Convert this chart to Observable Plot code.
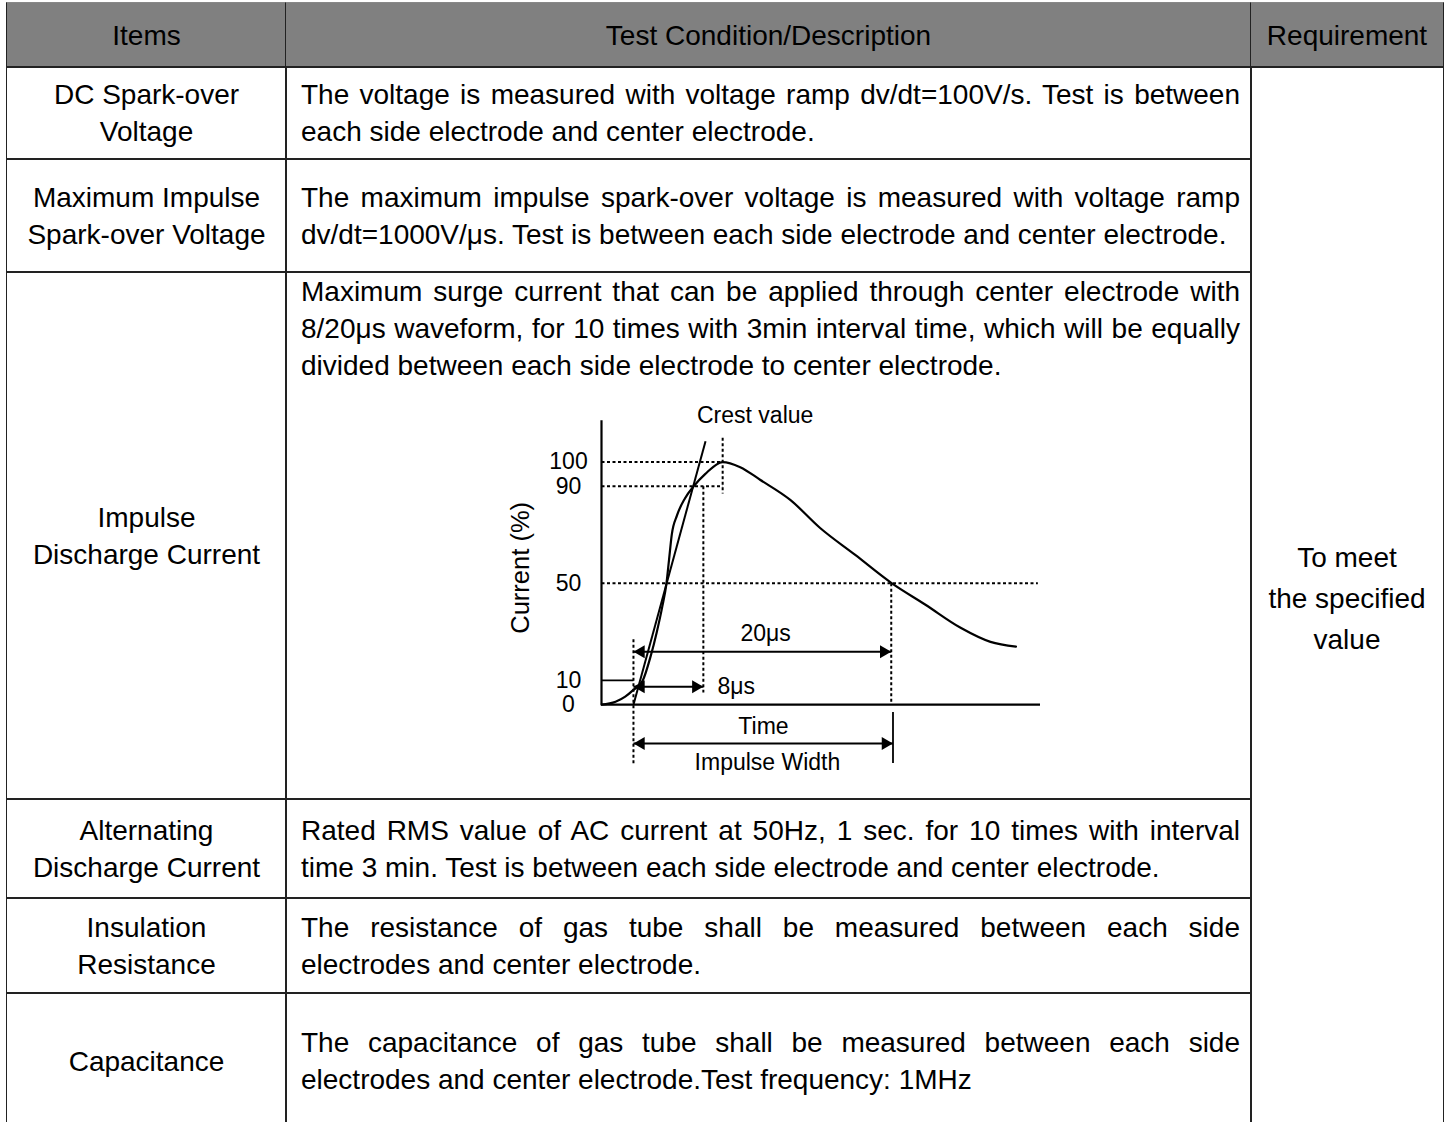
<!DOCTYPE html>
<html><head><meta charset="utf-8">
<script src="https://cdn.jsdelivr.net/npm/d3@7"></script>
<script src="https://cdn.jsdelivr.net/npm/@observablehq/plot@0.6"></script>
<style>
body{margin:0;background:#fff;}
#page{position:relative;width:1451px;height:1122px;overflow:hidden;font-family:"Liberation Sans",Arial,sans-serif;color:#000;}
.cell{position:absolute;box-sizing:border-box;border:1.5px solid #222;}
.hdr{background:#808080;border-top-color:#888;}
.center{display:flex;align-items:center;justify-content:center;text-align:center;font-size:28px;line-height:37px;}
.req{line-height:41px;}
.desc{position:absolute;box-sizing:border-box;display:flex;flex-direction:column;font-size:28px;line-height:37px;padding-left:15px;padding-right:11px;}
.desc div{white-space:nowrap;}
.desc .j{text-align:justify;text-align-last:justify;}
#chart{position:absolute;left:490px;top:395px;}
</style></head>
<body><div id="page"></div>
<script>
// ---- table content ----
const headers = ["Items", "Test Condition/Description", "Requirement"];
const items = [
  ["DC Spark-over", "Voltage"],
  ["Maximum Impulse", "Spark-over Voltage"],
  ["Impulse", "Discharge Current"],
  ["Alternating", "Discharge Current"],
  ["Insulation", "Resistance"],
  ["Capacitance"]
];
const descriptions = [
  ["The voltage is measured with voltage ramp dv/dt=100V/s. Test is between", "each side electrode and center electrode."],
  ["The maximum impulse spark-over voltage is measured with voltage ramp", "dv/dt=1000V/\u03bcs. Test is between each side electrode and center electrode."],
  ["Maximum surge current that can be applied through center electrode with", "8/20\u03bcs waveform, for 10 times with 3min interval time, which will be equally", "divided between each side electrode to center electrode."],
  ["Rated RMS value of AC current at 50Hz, 1 sec. for 10 times with interval", "time 3 min. Test is between each side electrode and center electrode."],
  ["The resistance of gas tube shall be measured between each side", "electrodes and center electrode."],
  ["The capacitance of gas tube shall be measured between each side", "electrodes and center electrode.Test frequency: 1MHz"]
];
const requirement = ["To meet", "the specified", "value"];

// ---- chart data (schematic time units, current in %) ----
const yTicks = [0, 10, 50, 90, 100];
const waveform = [
  [0,0],[1.6,1.2],[2.7,3.3],[3.6,6.0],[4.7,10],[5.6,20],[6.3,30],[6.9,40],[7.4,50],
  [7.7,60],[8.0,70],[8.6,78],[9.5,85],[10.5,90],[11.8,95],[13.8,100],
  [15.8,97.9],[18.1,92.6],[21.5,84.4],[24.9,72.8],[28.9,61.7],[33.0,50.2],
  [36.9,41.2],[40.9,31.7],[44.3,25.9],[47.2,23.9]
];
const frontLine = [{x1:3.64, y1:0, x2:11.85, y2:108.6}];
const dottedGuides = [
  {x1:0, y1:100, x2:13.8, y2:100},
  {x1:0, y1:90, x2:13.8, y2:90},
  {x1:13.8, y1:110, x2:13.8, y2:87},
  {x1:11.6, y1:90, x2:11.6, y2:5},
  {x1:0, y1:50, x2:49.7, y2:50},
  {x1:33.0, y1:50, x2:33.0, y2:0},
  {x1:3.64, y1:27, x2:3.64, y2:-25}
];
const solidGuides = [
  {x1:0, y1:10, x2:3.64, y2:10},
  {x1:33.2, y1:-3, x2:33.2, y2:-24}
];
const arrows = [
  {x1:3.64, x2:11.6, y:7.4},
  {x1:3.64, x2:33.0, y:21.8},
  {x1:3.64, x2:33.2, y:-16}
];
const labels = [
  {x:17.5, y:119, text:"Crest value"},
  {x:18.7, y:29.2, text:"20\u03bcs"},
  {x:18.45, y:-9, text:"Time"},
  {x:18.9, y:-23.9, text:"Impulse Width"}
];
const sideLabels = [{x:13.2, y:7.4, text:"8\u03bcs"}];
const axisLabel = [{x:-9.2, y:56.4, text:"Current (%)"}];

// ---- layout ----
const page = document.getElementById("page");
const colEdges = [7, 286, 1251, 1443];
const rowEdges = [67, 159, 272, 799, 898, 993, 1129];
const headerTop = 3;

function cell(x0, y0, x1, y1, cls, html) {
  const d = document.createElement("div");
  d.className = "cell " + (cls || "");
  d.style.left = (x0 - 0.75) + "px";
  d.style.top = (y0 - 0.75) + "px";
  d.style.width = (x1 - x0 + 1.5) + "px";
  d.style.height = (y1 - y0 + 1.5) + "px";
  if (html != null) d.innerHTML = html;
  page.appendChild(d);
  return d;
}
headers.forEach((h, i) => cell(colEdges[i], headerTop, colEdges[i+1], rowEdges[0], "hdr center", h));
items.forEach((lines, r) => {
  cell(colEdges[0], rowEdges[r], colEdges[1], rowEdges[r+1], "center", lines.join("<br>"));
  cell(colEdges[1], rowEdges[r], colEdges[2], rowEdges[r+1], "", null);
  const d = document.createElement("div");
  d.className = "desc";
  d.style.left = colEdges[1] + "px";
  d.style.width = (colEdges[2] - colEdges[1]) + "px";
  if (r === 2) {
    d.style.top = (rowEdges[r] + 1) + "px";
  } else {
    d.style.top = rowEdges[r] + "px";
    d.style.height = (rowEdges[r+1] - rowEdges[r]) + "px";
    d.style.justifyContent = "center";
  }
  descriptions[r].forEach((t, k) => {
    const ln = document.createElement("div");
    if (k < descriptions[r].length - 1) ln.className = "j";
    ln.textContent = t;
    d.appendChild(ln);
  });
  page.appendChild(d);
});
cell(colEdges[2], rowEdges[0], colEdges[3], rowEdges[rowEdges.length-1], "center req", requirement.join("<br>"));

// ---- chart ----
const ink = "#000";
const chart = Plot.plot({
  width: 580, height: 390,
  marginLeft: 111, marginRight: 30, marginTop: 18, marginBottom: 8,
  x: {domain: [0, 50], axis: null},
  y: {domain: [-30, 120], axis: null},
  style: {fontFamily: "Liberation Sans, Arial, sans-serif", fontSize: "23px", color: ink, background: "transparent", overflow: "visible"},
  marks: [
    Plot.link(dottedGuides, {x1:"x1", y1:"y1", x2:"x2", y2:"y2", stroke: ink, strokeWidth: 2, strokeDasharray: "3,2.5"}),
    Plot.link(solidGuides, {x1:"x1", y1:"y1", x2:"x2", y2:"y2", stroke: ink, strokeWidth: 1.8}),
    Plot.link(frontLine, {x1:"x1", y1:"y1", x2:"x2", y2:"y2", stroke: ink, strokeWidth: 2}),
    Plot.ruleX([0], {y1: 0, y2: 117, stroke: ink, strokeWidth: 2.2}),
    Plot.ruleY([0], {x1: 0, x2: 50, stroke: ink, strokeWidth: 2.2}),
    Plot.line(waveform, {x: d => d[0], y: d => d[1], curve: "monotone-x", stroke: ink, strokeWidth: 2.2}),
    Plot.link(arrows, {x1:"x1", x2:"x2", y1:"y", y2:"y", stroke: ink, strokeWidth: 2}),
    Plot.dot(arrows, {x: "x2", y: "y", symbol: "triangle", r: 4.8, fill: ink, stroke: "none", rotate: 90, dx: -7.5}),
    Plot.dot(arrows, {x: "x1", y: "y", symbol: "triangle", r: 4.8, fill: ink, stroke: "none", rotate: -90, dx: 7.5}),
    Plot.axisY(yTicks, {tickSize: 0, tickPadding: 33, textAnchor: "middle", label: null, fontSize: 23}),
    Plot.text(labels, {x: "x", y: "y", text: "text", textAnchor: "middle", fontSize: 23, fill: ink}),
    Plot.text(sideLabels, {x: "x", y: "y", text: "text", textAnchor: "start", fontSize: 23, fill: ink}),
    Plot.text(axisLabel, {x: "x", y: "y", text: "text", rotate: -90, fontSize: 25.5, fill: ink})
  ]
});
chart.id = "chart";
page.appendChild(chart);
</script>
</body></html>
